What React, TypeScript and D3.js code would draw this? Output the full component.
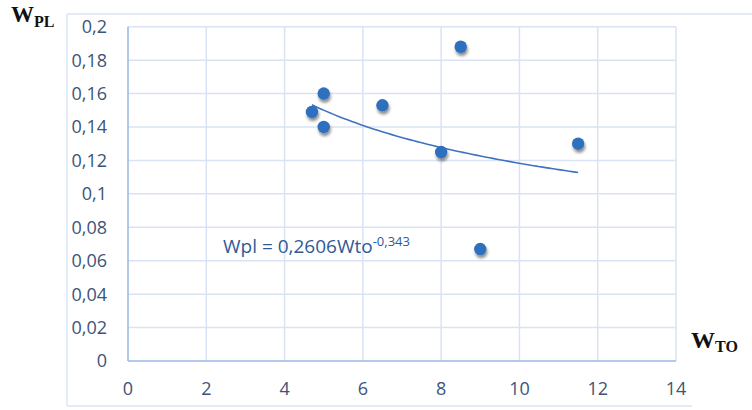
import React from 'react';
import * as d3 from 'd3';

// measured points (Wto, Wpl)
const wto = [4.7, 5, 5, 6.5, 8, 8.5, 9, 11.5];
const wpl = [0.149, 0.16, 0.14, 0.153, 0.125, 0.188, 0.067, 0.13];

const xTicks = [0, 2, 4, 6, 8, 10, 12, 14];
const yTicks = [0, 0.02, 0.04, 0.06, 0.08, 0.1, 0.12, 0.14, 0.16, 0.18, 0.2];

// power trendline shown on the chart: Wpl = a * Wto^b
const trendA = 0.2606;
const trendB = -0.343;

const W = 752, H = 410;

export default function App() {
  const x = d3.scaleLinear().domain([0, 14]).range([128, 676]);
  const y = d3.scaleLinear().domain([0, 0.2]).range([361, 26.7]);

  const fmt = (v: number) => String(+v.toFixed(2)).replace('.', ',');

  const [xMin, xMax] = d3.extent(wto) as [number, number];
  const trendX = d3.range(xMin, xMax + 0.001, (xMax - xMin) / 60);
  const trend = d3.line<number>()
    .x(d => x(d))
    .y(d => y(trendA * Math.pow(d, trendB)))
    .curve(d3.curveMonotoneX)(trendX);

  const points = wto.map((v, i) => ({ x: v, y: wpl[i] }));

  const grid = '#d9e3f3';
  const axisCol = '#9db9e4';
  const tickCol = '#3d5478';
  const tickFont = '"Open Sans", "Liberation Sans", sans-serif';
  const serif = '"Liberation Serif", "DejaVu Serif", serif';

  return (
    <svg width={W} height={H} style={{ position: 'absolute', left: 0, top: 0, background: '#fff' }}>
      <defs>
        <filter id="shadow" x="-50%" y="-50%" width="200%" height="200%">
          <feGaussianBlur in="SourceAlpha" stdDeviation="1.6" />
          <feOffset dx="1" dy="2.5" result="b" />
          <feComponentTransfer><feFuncA type="linear" slope="0.45" /></feComponentTransfer>
          <feMerge><feMergeNode /><feMergeNode in="SourceGraphic" /></feMerge>
        </filter>
      </defs>

      {/* outer chart frame */}
      <g stroke="#dce6f5" strokeWidth={1.5} fill="none">
        <line x1={67} y1={14} x2={752} y2={14} />
        <line x1={67} y1={14} x2={67} y2={406} />
        <line x1={67} y1={406} x2={692} y2={406} />
      </g>

      {/* gridlines */}
      <g stroke={grid} strokeWidth={1.5}>
        {yTicks.filter(t => t > 0).map(t => (
          <line key={'gy' + t} x1={x(0)} x2={x(14)} y1={y(t)} y2={y(t)} />
        ))}
        {xTicks.filter(t => t > 0).map(t => (
          <line key={'gx' + t} x1={x(t)} x2={x(t)} y1={y(0)} y2={y(0.2)} />
        ))}
      </g>

      {/* axes */}
      <g stroke={axisCol} strokeWidth={1.6}>
        <line x1={x(0)} x2={x(0)} y1={y(0)} y2={y(0.2)} />
        <line x1={x(0)} x2={x(14)} y1={y(0)} y2={y(0)} />
      </g>

      {/* tick labels */}
      <g fill={tickCol} fontFamily={tickFont} fontSize={18}>
        {yTicks.map(t => (
          <text key={'ty' + t} x={107} y={y(t)} dy="0.36em" textAnchor="end">{fmt(t)}</text>
        ))}
        {xTicks.map(t => (
          <text key={'tx' + t} x={x(t)} y={395} textAnchor="middle">{t}</text>
        ))}
      </g>

      {/* trendline */}
      <path d={trend || ''} fill="none" stroke="#3f73c0" strokeWidth={1.6} />

      {/* points */}
      <g filter="url(#shadow)">
        {points.map((p, i) => (
          <circle key={i} cx={x(p.x)} cy={y(p.y)} r={6.2} fill="#2e6fbd" />
        ))}
      </g>

      {/* equation */}
      <text x={223} y={253} fill="#2f5a96" fontFamily={tickFont} fontSize={19}>
        Wpl = 0,2606Wto
        <tspan dy={-7} fontSize={13}>-0,343</tspan>
      </text>

      {/* axis titles */}
      <text x={11} y={22} fontFamily={serif} fontWeight="bold" fill="#111">
        <tspan fontSize={23}>W</tspan>
        <tspan fontSize={16} dy={5}>PL</tspan>
      </text>
      <text x={691} y={348} fontFamily={serif} fontWeight="bold" fill="#111">
        <tspan fontSize={24}>W</tspan>
        <tspan fontSize={16} dy={4}>TO</tspan>
      </text>
    </svg>
  );
}
